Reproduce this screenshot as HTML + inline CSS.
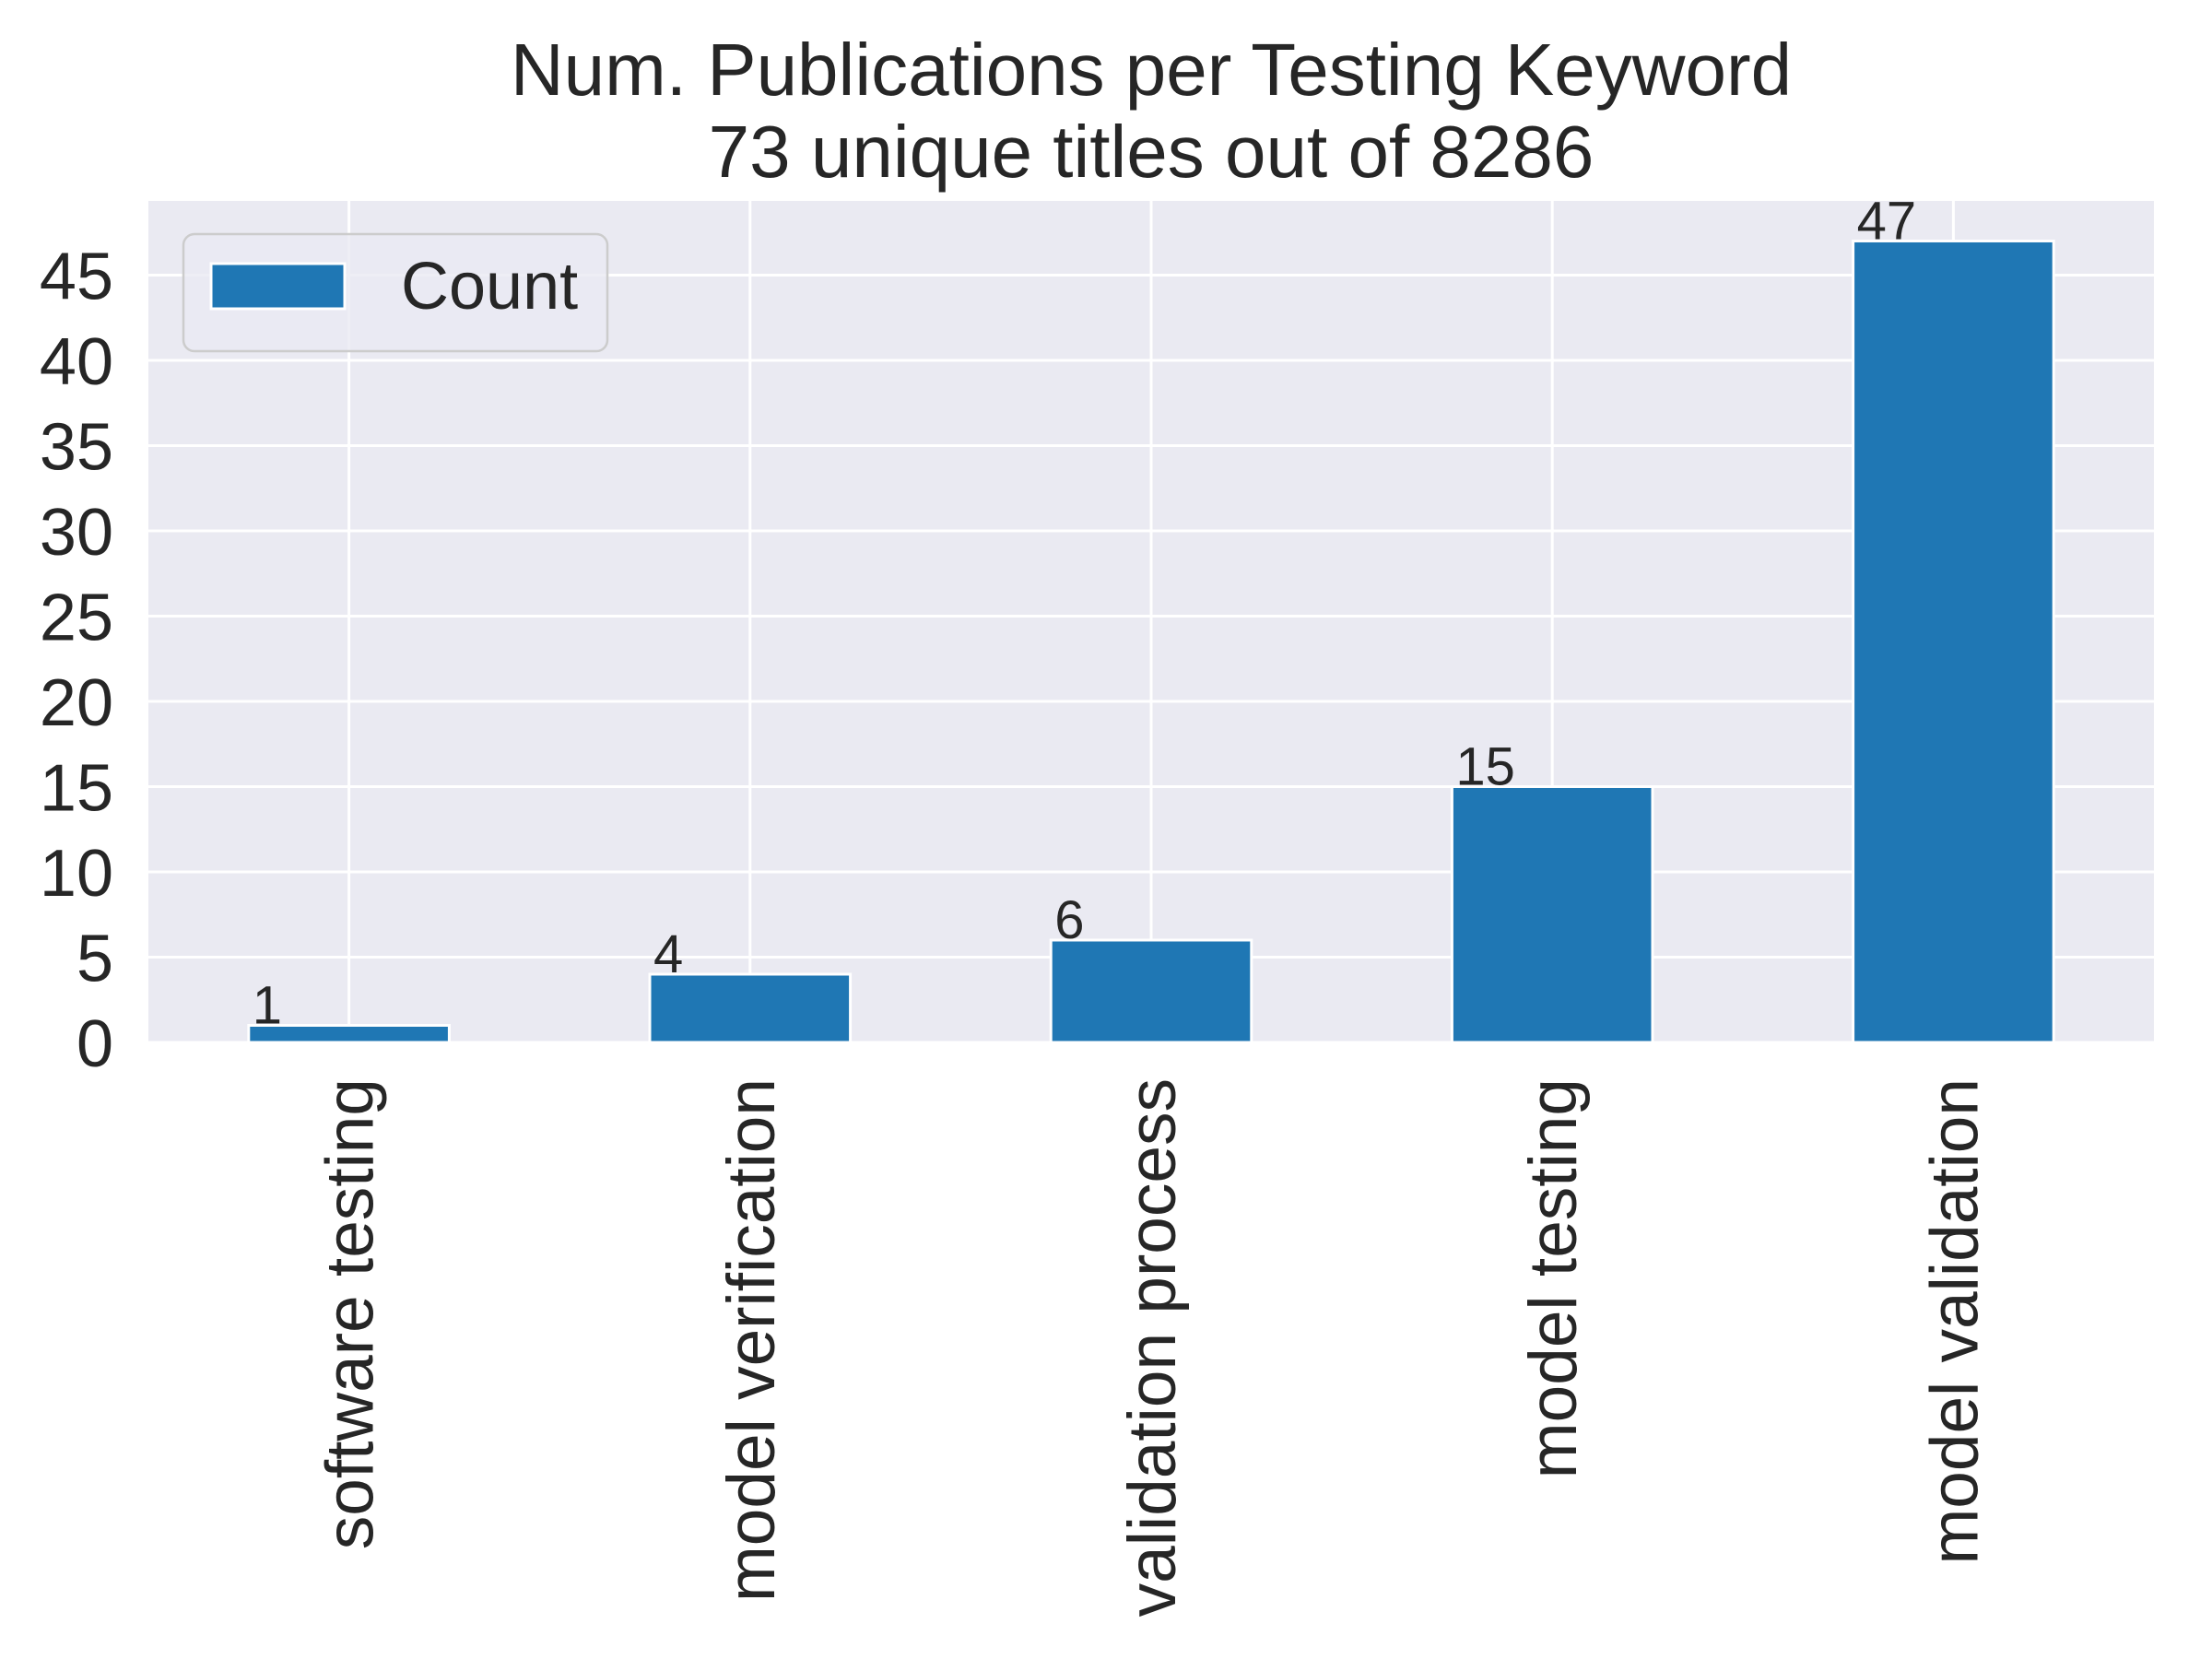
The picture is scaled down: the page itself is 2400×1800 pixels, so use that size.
<!DOCTYPE html>
<html><head><meta charset="utf-8"><style>
html,body{margin:0;padding:0;background:#fff;}
svg{display:block;font-family:"Liberation Sans",Arial,sans-serif;}
</style></head><body>
<svg id="chart" width="2400" height="1800" viewBox="0 0 2400 1800">
<text x="1249" y="103" text-anchor="middle" font-size="80" fill="#262626">Num. Publications per Testing Keyword</text>
<text x="1249" y="192" text-anchor="middle" font-size="80" fill="#262626">73 unique titles out of 8286</text>
<rect x="161" y="218" width="2176" height="913" fill="#EAEAF2"/>
<g id="grid"></g>
<g id="bars"></g>
<g id="labels"></g>
<g id="ticks"></g>
<g>
<rect x="199" y="254" width="460" height="127" rx="12" fill="#EAEAF2" fill-opacity="0.8" stroke="#cccccc" stroke-width="2.5"/>
<rect x="229" y="286" width="145" height="49" fill="#1f77b4" stroke="#fff" stroke-width="3"/>
<text x="435" y="335" font-size="72" fill="#262626">Count</text>
</g>
</svg>
<script>
const categories = ["software testing","model verification","validation process","model testing","model validation"];
const counts = [1,4,6,15,47];
const yTicks = [0,5,10,15,20,25,30,35,40,45];
const yMax = 49.35;
const NS = "http://www.w3.org/2000/svg";
const L=161,R=2337,T=218,B=1131;
const step=(R-L)/categories.length;
const xC=i=>L+step*(i+0.5);
const yS=v=>B-(v/yMax)*(B-T);
function mk(tag,attrs,parent,text){const e=document.createElementNS(NS,tag);for(const k in attrs)e.setAttribute(k,attrs[k]);if(text!==undefined)e.textContent=text;document.getElementById(parent).appendChild(e);return e;}
yTicks.forEach(v=>{
  const g=mk('line',{x1:L,x2:R,y1:yS(v),y2:yS(v),stroke:'#fff','stroke-width':3},'grid');
  
  
  const t=mk('text',{x:123,y:yS(v)+26,'text-anchor':'end','font-size':72,fill:'#262626'},'ticks',String(v));
  
  
});
categories.forEach((c,i)=>{
  const g=mk('line',{x1:xC(i),x2:xC(i),y1:T,y2:B,stroke:'#fff','stroke-width':3},'grid');
  
  
  const bw=step*0.5, x0=xC(i)-bw/2, y0=yS(counts[i]);
  const b=mk('rect',{x:x0,y:y0,width:bw,height:B-y0,fill:'#1f77b4',stroke:'#fff','stroke-width':3},'bars');
  
  
  const l=mk('text',{x:x0+4,y:y0-2,'font-size':58,fill:'#262626'},'labels',String(counts[i]));
  
  
  const t=mk('text',{x:0,y:0,'text-anchor':'end','font-size':73,fill:'#262626',transform:`translate(${xC(i)+26},1170) rotate(-90)`},'ticks',c);
  
  
});
</script>
</body></html>
